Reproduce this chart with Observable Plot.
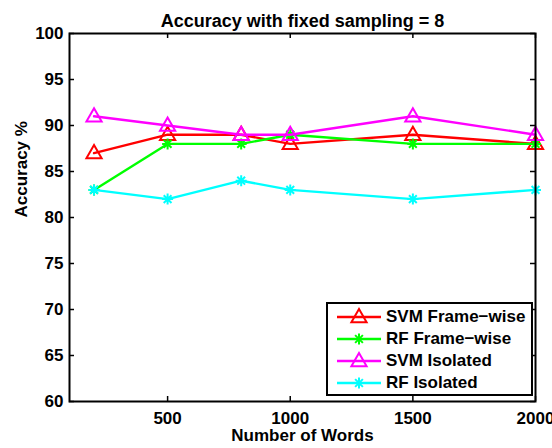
<!DOCTYPE html>
<html><head><meta charset="utf-8">
<script src="https://cdn.jsdelivr.net/npm/d3@7"></script>
<script src="https://cdn.jsdelivr.net/npm/@observablehq/plot@0.6"></script>
<style>body{margin:0;background:#fff}</style>
</head><body><div id="chart"></div>
<script>
const words = [200, 500, 800, 1000, 1500, 2000];
const svmFrameWise = [87, 89, 89, 88, 89, 88];
const rfFrameWise = [83, 88, 88, 89, 88, 88];
const svmIsolated = [91, 90, 89, 89, 91, 89];
const rfIsolated = [83, 82, 84, 83, 82, 83];
const seriesNames = ["SVM Frame\u2212wise", "RF Frame\u2212wise", "SVM Isolated", "RF Isolated"];
const xTicks = [500, 1000, 1500, 2000];
const yTicks = [60, 65, 70, 75, 80, 85, 90, 95, 100];
const titleText = "Accuracy with fixed sampling = 8";
const xLabel = "Number of Words";
const yLabel = "Accuracy %";
const xDomain = [100, 2000];
const yDomain = [60, 100];

const colors = ["#ff0000", "#00ff00", "#ff00ff", "#00ffff"];
const triangle = {draw(ctx, size) {
  const r = Math.sqrt(size / Math.PI);
  ctx.moveTo(0, -r); ctx.lineTo(r * 0.95, r * 0.65); ctx.lineTo(-r * 0.95, r * 0.65); ctx.closePath();
}};
const asterisk = {draw(ctx, size) {
  const r = Math.sqrt(size / Math.PI), d = r * Math.SQRT1_2;
  ctx.moveTo(-r, 0); ctx.lineTo(r, 0); ctx.moveTo(0, -r); ctx.lineTo(0, r);
  ctx.moveTo(-d, -d); ctx.lineTo(d, d); ctx.moveTo(-d, d); ctx.lineTo(d, -d);
}};
const symbols = [triangle, asterisk, triangle, asterisk];
const radii = [8, 5.5, 8, 5.5];

const seriesValues = [svmFrameWise, rfFrameWise, svmIsolated, rfIsolated];
const rows = seriesValues.flatMap((vals, s) => vals.map((v, i) => ({series: seriesNames[s], s, words: words[i], acc: v})));

const seriesMarks = seriesValues.flatMap((_, s) => {
  const d = rows.filter(r => r.s === s);
  return [
    Plot.line(d, {x: "words", y: "acc", stroke: colors[s], strokeWidth: 2.4}),
    Plot.dot(d, {x: "words", y: "acc", symbol: symbols[s], r: radii[s], stroke: colors[s], strokeWidth: 2, fill: "none"})
  ];
});

const chart = Plot.plot({
  width: 552, height: 448,
  marginLeft: 69, marginRight: 17, marginTop: 33, marginBottom: 47,
  x: {domain: xDomain},
  y: {domain: yDomain},
  style: {fontFamily: "'Liberation Sans', Arial, sans-serif", fontSize: "17px", fontWeight: "bold", background: "white", color: "black"},
  marks: [
    Plot.axisX({ticks: xTicks, tickFormat: d => String(d), tickSize: 0, tickPadding: 10, label: null}),
    Plot.axisY({ticks: yTicks, tickFormat: d => String(d), tickSize: 0, tickPadding: 6, label: null}),
    Plot.ruleX(xTicks, {x: d => d, y1: yDomain[0], y2: yDomain[0], insetBottom: 5, stroke: "black", strokeWidth: 1.5}),
    Plot.ruleX(xTicks, {x: d => d, y1: yDomain[1], y2: yDomain[1], insetTop: 5, stroke: "black", strokeWidth: 1.5}),
    Plot.ruleY(yTicks, {y: d => d, x1: xDomain[0], x2: xDomain[0], insetLeft: 5, stroke: "black", strokeWidth: 1.5}),
    Plot.ruleY(yTicks, {y: d => d, x1: xDomain[1], x2: xDomain[1], insetRight: 5, stroke: "black", strokeWidth: 1.5}),
    ...seriesMarks,
    Plot.frame({stroke: "black", strokeWidth: 2}),
    Plot.text([titleText], {text: d => d, frameAnchor: "top", dy: -19, fontSize: 18}),
    Plot.text([xLabel], {text: d => d, frameAnchor: "bottom", dy: 39.5}),
    Plot.text([yLabel], {text: d => d, frameAnchor: "left", dx: -48, rotate: -90})
  ]
});
document.getElementById("chart").appendChild(chart);

// Legend (MATLAB-style box, inside the axes at the lower right)
const svg = d3.select(chart);
const lg = svg.append("g").attr("class", "legend").attr("text-anchor", "start");
const bx = 327, by = 303, bw = 205, bh = 92, rowH = 22;
lg.append("rect").attr("x", bx).attr("y", by).attr("width", bw).attr("height", bh)
  .attr("fill", "white").attr("stroke", "black").attr("stroke-width", 2);
seriesNames.forEach((name, s) => {
  const cy = by + 14 + s * rowH;
  lg.append("line").attr("x1", bx + 10).attr("x2", bx + 54).attr("y1", cy).attr("y2", cy)
    .attr("stroke", colors[s]).attr("stroke-width", 2.4);
  lg.append("path").attr("transform", `translate(${bx + 32},${cy})`)
    .attr("d", d3.symbol(symbols[s], radii[s] * radii[s] * Math.PI)())
    .attr("fill", "none").attr("stroke", colors[s]).attr("stroke-width", 2);
  lg.append("text").attr("x", bx + 59).attr("y", cy).attr("dy", "0.32em")
    .attr("text-anchor", "start").attr("fill", "black").text(name);
});
</script>
</body></html>
